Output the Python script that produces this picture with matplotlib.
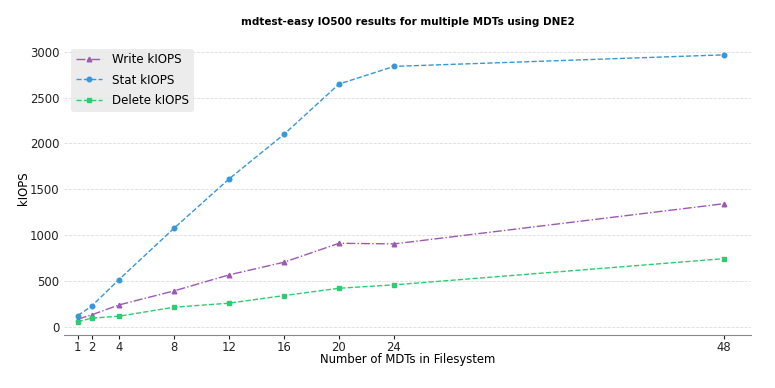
import matplotlib
matplotlib.use("Agg")
import matplotlib.pyplot as plt

# number of MDTs
mdts = [1, 2, 4, 8, 12, 16, 20, 24, 48]

write_kiops = [80, 127, 236, 389, 564, 702, 909, 902, 1341]
stat_kiops = [120, 222, 513, 1073, 1611, 2098, 2647, 2840, 2966]
delete_kiops = [55, 91, 113, 211, 255, 338, 418, 455, 741]

fs = 8.4

fig = plt.figure(figsize=(7.75, 3.88), dpi=100)
ax = fig.add_axes([0.0826, 0.137, 0.887, 0.756])

ax.plot(mdts, write_kiops, '-.', marker='^', color='#9b59b6', markersize=3.3, lw=1.0, label='Write kIOPS')
ax.plot(mdts, stat_kiops, '--', marker='o', color='#3498db', markersize=3.3, lw=1.0, label='Stat kIOPS')
ax.plot(mdts, delete_kiops, '--', marker='s', color='#2ecc71', markersize=3.3, lw=1.0, label='Delete kIOPS')

ax.set_xlim(0, 50)
ax.set_xticks(mdts)
ax.set_yticks([0, 500, 1000, 1500, 2000, 2500, 3000])
ax.tick_params(axis='both', labelsize=fs, colors='#222222')
ax.tick_params(axis='x', length=3, pad=1.5)
ax.tick_params(axis='y', length=0)
ax.yaxis.grid(True, linestyle='--', color='#dddddd', lw=0.6)
ax.set_axisbelow(True)

for s in ['top', 'right', 'left']:
    ax.spines[s].set_visible(False)
ax.spines['bottom'].set_color('#888888')

ax.set_xlabel('Number of MDTs in Filesystem', fontsize=fs, labelpad=-1)
ax.set_ylabel('kIOPS', fontsize=fs, labelpad=0)
ax.set_title('mdtest-easy IO500 results for multiple MDTs using DNE2', fontsize=7.5, fontweight='bold', pad=12)

leg = ax.legend(loc='upper left', fontsize=8.6, frameon=True, borderaxespad=0.6,
                labelspacing=0.6, handlelength=2.2)
leg.get_frame().set_facecolor('#e8e8e8')
leg.get_frame().set_edgecolor('none')

fig.savefig('out.png', dpi=100)
